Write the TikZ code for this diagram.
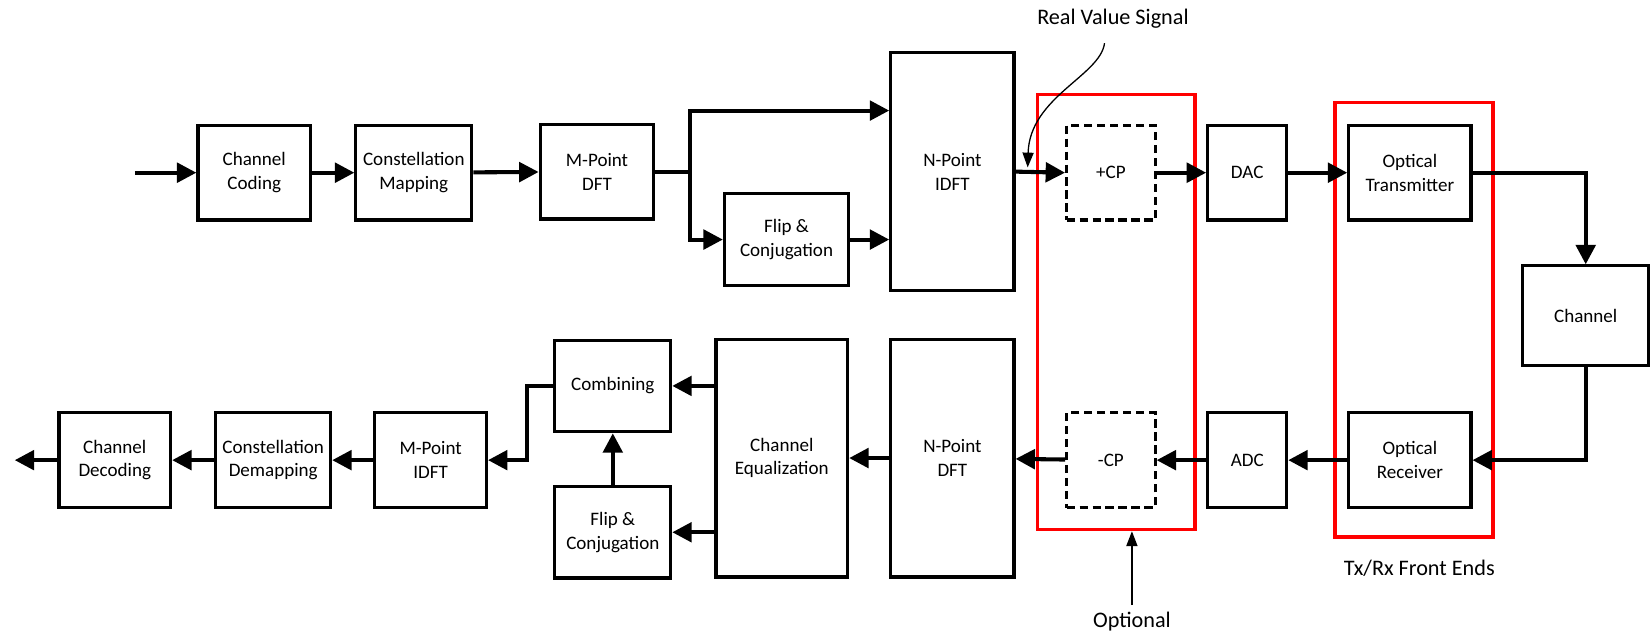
\documentclass[tikz,border=0pt]{standalone}
\usepackage{fontspec}
\setmainfont{Carlito}
\usetikzlibrary{arrows.meta,calc}

\begin{document}
\begin{tikzpicture}[x=0.02cm,y=-0.02cm,
    blk/.style={draw,line width=1.7pt,align=center,inner sep=1pt,
      font=\fontsize{10.3}{12.8}\selectfont,minimum height=1.8cm},
    cpblk/.style={blk,dash pattern=on 4.5pt off 2.5pt},
    frontend/.style={draw=red,line width=1.8pt,minimum width=3cm,minimum height=8.26cm},
    sig/.style={line width=2.2pt,-{Triangle[length=10.5pt,width=10.5pt]}},
    note/.style={font=\fontsize{12}{14}\selectfont},
    pointer/.style={line width=0.7pt,-{Triangle[length=8pt,width=6pt]}}]
    \useasboundingbox (0,0) rectangle (1568,600);
    % optional CP and front end frames
    \node[frontend] (cpzone) at (1060,296.5) {};
    \node[frontend] (trxzone) at (1343,303.5) {};
    % transmitter
    \node[blk,minimum width=2.14cm] (chcod) at (241.5,164) {Channel\\Coding};
    \node[blk,minimum width=2.2cm] (cmap) at (393,164) {Constellation\\Mapping};
    \node[blk,minimum width=2.16cm] (mdft) at (567,163) {M-Point\\DFT};
    \node[blk,minimum width=2.36cm,minimum height=1.74cm] (flip) at (747,227.5) {Flip \&\\Conjugation};
    \node[blk,minimum width=2.34cm,minimum height=4.52cm] (nidft) at (904.5,163) {N-Point\\IDFT};
    \node[cpblk,minimum width=1.68cm] (addcp) at (1055,164) {+CP};
    \node[blk,minimum width=1.5cm] (dac) at (1184.5,164) {DAC};
    \node[blk,minimum width=2.32cm] (otx) at (1339,164) {Optical\\Transmitter};
    \node[blk,minimum width=2.4cm,minimum height=1.9cm] (chan) at (1506,300) {Channel};
    % receiver
    \node[blk,minimum width=2.32cm] (orx) at (1339,437) {Optical\\Receiver};
    \node[blk,minimum width=1.5cm] (adc) at (1184.5,437) {ADC};
    \node[cpblk,minimum width=1.68cm] (rmcp) at (1055,437) {-CP};
    \node[blk,minimum width=2.34cm,minimum height=4.52cm] (ndft) at (904.5,435) {N-Point\\DFT};
    \node[blk,minimum width=2.5cm,minimum height=4.52cm] (cheq) at (742.5,435) {Channel\\Equalization};
    \node[blk,minimum width=2.2cm,minimum height=1.74cm] (comb) at (582,366.5) {Combining};
    \node[blk,minimum width=2.2cm,minimum height=1.74cm] (flipb) at (582,505.5) {Flip \&\\Conjugation};
    \node[blk,minimum width=2.12cm] (midft) at (409,437) {M-Point\\IDFT};
    \node[blk,minimum width=2.18cm] (cdemap) at (259.5,437) {Constellation\\Demapping};
    \node[blk,minimum width=2.12cm] (chdec) at (109,437) {Channel\\Decoding};
    % transmit path
    \coordinate (in) at (128,164);
    \coordinate (split) at (655,163);
    \draw[sig] (in) -- (chcod.west);
    \draw[sig] (chcod) -- (cmap);
    \draw[sig] (cmap) -- (mdft);
    \draw[line width=2.2pt] (mdft.east) -- (split);
    \draw[sig] (split) |- ([yshift=1.16cm]nidft.west);
    \draw[sig] (split) |- (flip.west);
    \draw[sig] (flip.east) -- (flip.east -| nidft.west);
    \draw[sig] (nidft.east) -- (addcp.west);
    \draw[sig] (addcp) -- (dac);
    \draw[sig] (dac) -- (otx);
    \draw[sig] (otx.east) -| (chan.north);
    % receive path
    \draw[sig] (chan.south) |- (orx.east);
    \draw[sig] (orx) -- (adc);
    \draw[sig] (adc) -- (rmcp);
    \draw[sig] (rmcp) -- (ndft);
    \draw[sig] (ndft) -- (cheq);
    \draw[sig] (cheq.west |- comb.east) -- (comb.east);
    \draw[sig] (cheq.west |- flipb.east) -- (flipb.east);
    \draw[sig] (flipb) -- (comb);
    \draw[sig] (comb.west) -- ++(-25,0) |- (midft.east);
    \draw[sig] (midft) -- (cdemap);
    \draw[sig] (cdemap) -- (chdec);
    \coordinate (out) at (14,437);
    \draw[sig] (chdec.west) -- (out);
    % notes
    \node[note] (rvs) at (1057,18) {Real Value Signal};
    \coordinate (rvtip) at (976,159);
    \draw[pointer] (1049,41) .. controls (1045,72) and (978,92) .. (rvtip);
    \node[note] (opt) at (1075,590) {Optional};
    \draw[pointer] (opt.north) -- (opt.north |- cpzone.south);
    \node[note] (trxnote) at (1348,540) {Tx/Rx Front Ends};
\end{tikzpicture}
\end{document}
